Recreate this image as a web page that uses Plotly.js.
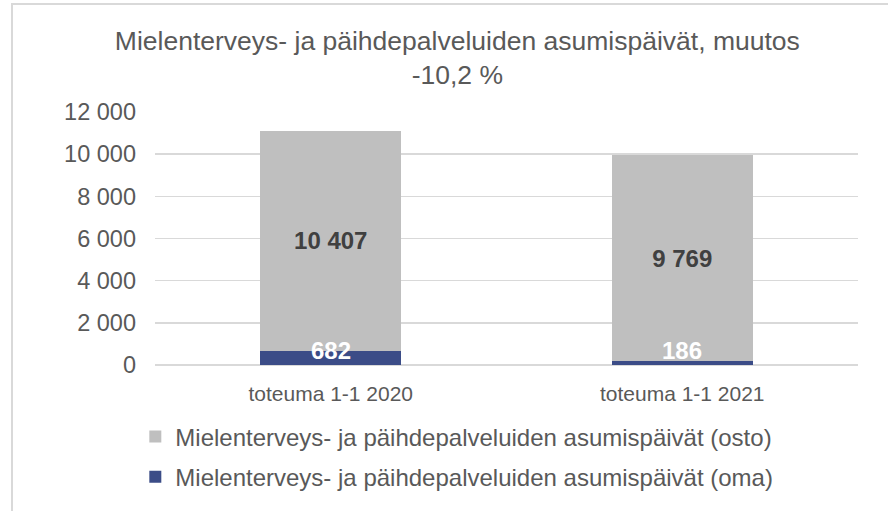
<!DOCTYPE html>
<html>
<head>
<meta charset="utf-8">
<script src="https://cdn.plot.ly/plotly-3.0.1.min.js"></script>
<style>
html,body{margin:0;padding:0;background:#fff;}
#wrap{position:relative;width:888px;height:511px;overflow:hidden;}
#chart{position:absolute;left:0;top:0;width:888px;height:511px;}
#frame{position:absolute;left:11px;top:3px;width:900px;height:540px;border-left:2px solid #d9d9d9;border-top:2px solid #d9d9d9;pointer-events:none;}
</style>
</head>
<body>
<div id="wrap"><div id="chart"></div><div id="frame"></div></div>
<script>
const categories = ["toteuma 1-1 2020", "toteuma 1-1 2021"];
const omaValues = [682, 186];
const ostoValues = [10407, 9769];
const omaName = "Mielenterveys- ja päihdepalveluiden asumispäivät (oma)";
const ostoName = "Mielenterveys- ja päihdepalveluiden asumispäivät (osto)";
const titleText = "Mielenterveys- ja päihdepalveluiden asumispäivät, muutos<br>-10,2 %";
const yTicks = [0, 2000, 4000, 6000, 8000, 10000, 12000];

const FONT = "'Liberation Sans', Arial, sans-serif";
const TXT = "#595959";

const traces = [
  {
    type: "bar", x: categories, y: omaValues, name: omaName,
    marker: {color: "#3b4c87"}, legendgroup: "oma", legendrank: 2,
    hoverinfo: "skip"
  },
  {
    type: "bar", x: categories, y: ostoValues, name: ostoName,
    marker: {color: "#bfbfbf"}, legendgroup: "osto", legendrank: 1,
    texttemplate: "%{y:,.0f}", textposition: "inside", insidetextanchor: "middle",
    textfont: {family: FONT, size: 24, color: "#404040", weight: "bold"},
    hoverinfo: "skip"
  }
];

const annotations = categories.map((c, i) => ({
  x: c, y: 0, xref: "x", yref: "y", yanchor: "bottom", yshift: -1,
  text: "<b>" + omaValues[i] + "</b>", showarrow: false,
  font: {family: FONT, size: 24, color: "#ffffff"}
}));

const layout = {
  width: 888, height: 511,
  margin: {l: 155, r: 30, t: 112, b: 146},
  paper_bgcolor: "rgba(0,0,0,0)", plot_bgcolor: "rgba(0,0,0,0)",
  separators: ", ",
  barmode: "stack", bargap: 0.6,
  font: {family: FONT, color: TXT, size: 22},
  title: {
    text: titleText, xref: "container", x: 0.515, xanchor: "center",
    yref: "container", y: 0.903, yanchor: "top",
    font: {family: FONT, size: 26.5, color: TXT}
  },
  xaxis: {
    automargin: false,
    showgrid: false, showline: false, ticks: "", zeroline: false,
    tickfont: {family: FONT, size: 21, color: TXT}, ticklabelstandoff: 14
  },
  yaxis: {
    automargin: false,
    range: [0, 12000], tickvals: yTicks, tickformat: ",.0f",
    showgrid: true, gridcolor: "#d9d9d9", gridwidth: 1.5,
    zeroline: true, zerolinecolor: "#d9d9d9", zerolinewidth: 1.5,
    showline: false, ticks: "",
    tickfont: {family: FONT, size: 23.5, color: TXT}, ticklabelstandoff: 18
  },
  legend: {
    orientation: "v", traceorder: "grouped", tracegroupgap: 6,
    xref: "paper", x: -0.028, xanchor: "left",
    yref: "container", y: 0.189, yanchor: "top",
    font: {family: FONT, size: 24, color: TXT}, itemwidth: 30,
    bgcolor: "rgba(0,0,0,0)"
  },
  annotations: annotations,
  showlegend: true
};

Plotly.newPlot("chart", traces, layout, {displayModeBar: false, staticPlot: true});
</script>
</body>
</html>
